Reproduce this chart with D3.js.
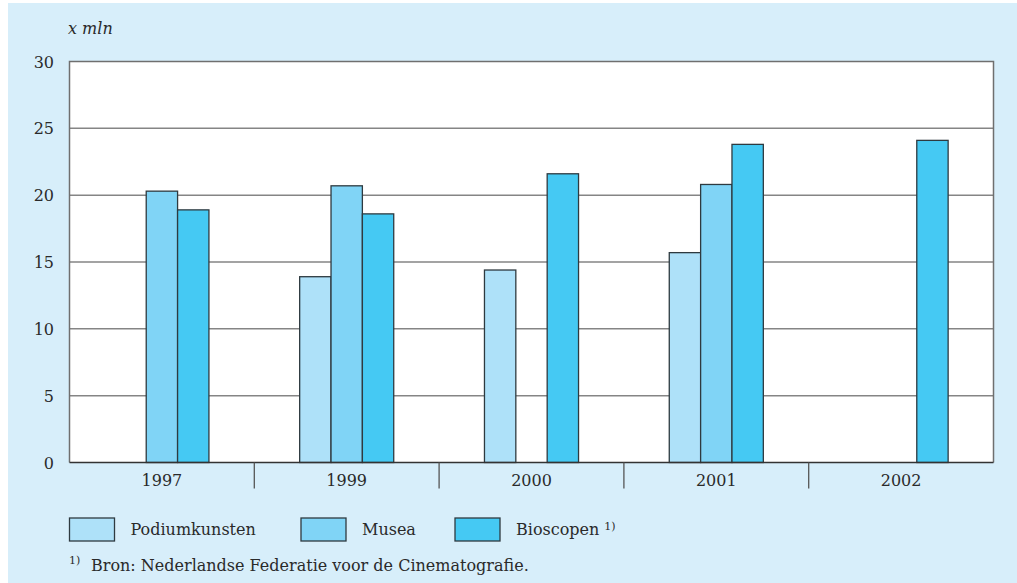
<!DOCTYPE html>
<html>
<head>
<meta charset="utf-8">
<script src="https://cdn.jsdelivr.net/npm/d3@7"></script>
<style>
  body { margin: 0; background: #fff; }
  text { font-family: "DejaVu Serif", serif; }
</style>
</head>
<body>
<svg class="chart" width="1017" height="583"></svg>
<script>
// data
const years = ["1997", "1999", "2000", "2001", "2002"];
const seriesNames = ["Podiumkunsten", "Musea", "Bioscopen"];
const podium = [null, 13.9, 14.4, 15.7, null];
const musea = [20.3, 20.7, null, 20.8, null];
const bioscopen = [18.9, 18.6, 21.6, 23.8, 24.1];
const yTicks = [0, 5, 10, 15, 20, 25, 30];
const colors = ["#aee1f9", "#80d4f6", "#45c9f3"];

const svg = d3.select(".chart");
const width = 1017;
const height = 583;
const fs = 16;

// light blue panel
svg.append("rect")
  .attr("x", 8).attr("y", 3)
  .attr("width", width - 8).attr("height", height - 3)
  .attr("fill", "#d7eefa");

const margin = { left: 69.5, right: 23.5, top: 61.5, bottom: 120.5 };
const x = d3.scaleBand()
  .domain(years)
  .range([margin.left, width - margin.right]);
const y = d3.scaleLinear()
  .domain([0, 30])
  .range([height - margin.bottom, margin.top]);

const groupW = x.bandwidth() * 0.509;
const xs = d3.scaleBand()
  .domain(seriesNames)
  .range([0, groupW]);

// plot area
svg.append("rect")
  .attr("x", margin.left).attr("y", margin.top)
  .attr("width", x.range()[1] - margin.left)
  .attr("height", y(0) - margin.top)
  .attr("fill", "white");

// gridlines
svg.append("g")
  .selectAll("line")
  .data(yTicks.filter(d => d > 0 && d < 30))
  .join("line")
  .attr("x1", margin.left).attr("x2", x.range()[1])
  .attr("y1", d => y(d)).attr("y2", d => y(d))
  .attr("stroke", "#858585")
  .attr("stroke-width", 1.5);

// bars
const series = [podium, musea, bioscopen];
const bars = [];
series.forEach((vals, si) => {
  vals.forEach((v, i) => {
    if (v != null) bars.push({ year: years[i], name: seriesNames[si], si, v });
  });
});

svg.append("g")
  .selectAll("rect")
  .data(bars)
  .join("rect")
  .attr("x", d => x(d.year) + (x.bandwidth() - groupW) / 2 + xs(d.name))
  .attr("y", d => y(d.v))
  .attr("width", xs.bandwidth())
  .attr("height", d => y(0) - y(d.v))
  .attr("fill", d => colors[d.si])
  .attr("stroke", "#2e3a40")
  .attr("stroke-width", 1.3);

// frame (left, top, right)
svg.append("path")
  .attr("d", `M${margin.left},${y(0)}V${margin.top}H${x.range()[1]}V${y(0)}`)
  .attr("fill", "none")
  .attr("stroke", "#6f6f6f")
  .attr("stroke-width", 1.5);

// x axis baseline
svg.append("line")
  .attr("x1", margin.left).attr("x2", x.range()[1])
  .attr("y1", y(0)).attr("y2", y(0))
  .attr("stroke", "#333")
  .attr("stroke-width", 1.3);

// category separators
svg.append("g")
  .selectAll("line")
  .data(years.slice(1))
  .join("line")
  .attr("x1", d => x(d)).attr("x2", d => x(d))
  .attr("y1", y(0)).attr("y2", y(0) + 26)
  .attr("stroke", "#555")
  .attr("stroke-width", 1.3);

// x labels
svg.append("g")
  .selectAll("text")
  .data(years)
  .join("text")
  .attr("x", d => x(d) + x.bandwidth() / 2)
  .attr("y", y(0) + 23)
  .attr("text-anchor", "middle")
  .attr("font-size", fs)
  .attr("fill", "#2a2a2a")
  .text(d => d);

// y labels
svg.append("g")
  .selectAll("text")
  .data(yTicks)
  .join("text")
  .attr("x", 54)
  .attr("y", d => y(d) + 6)
  .attr("text-anchor", "end")
  .attr("font-size", fs)
  .attr("fill", "#2a2a2a")
  .text(d => d);

// unit
svg.append("text")
  .attr("x", 68).attr("y", 34)
  .attr("font-size", fs)
  .attr("font-style", "italic")
  .attr("fill", "#2a2a2a")
  .text("x mln");

// legend
const legendX = [69.5, 301, 455];
const legend = svg.append("g")
  .selectAll("g")
  .data(seriesNames)
  .join("g")
  .attr("transform", (d, i) => `translate(${legendX[i]}, 518)`);

legend.append("rect")
  .attr("width", 45).attr("height", 23)
  .attr("fill", (d, i) => colors[i])
  .attr("stroke", "#2e3a40")
  .attr("stroke-width", 1.3);

const lt = legend.append("text")
  .attr("x", 61).attr("y", 17)
  .attr("font-size", fs)
  .attr("fill", "#2a2a2a")
  .text(d => d);

lt.filter(d => d === "Bioscopen")
  .append("tspan")
  .attr("dx", 5).attr("dy", -5)
  .attr("font-size", 11)
  .text("1)");

// footnote
svg.append("text")
  .attr("x", 69).attr("y", 564)
  .attr("font-size", 11)
  .attr("fill", "#2a2a2a")
  .text("1)");
svg.append("text")
  .attr("x", 91).attr("y", 571)
  .attr("font-size", fs)
  .attr("fill", "#2a2a2a")
  .text("Bron: Nederlandse Federatie voor de Cinematografie.");
</script>
</body>
</html>
